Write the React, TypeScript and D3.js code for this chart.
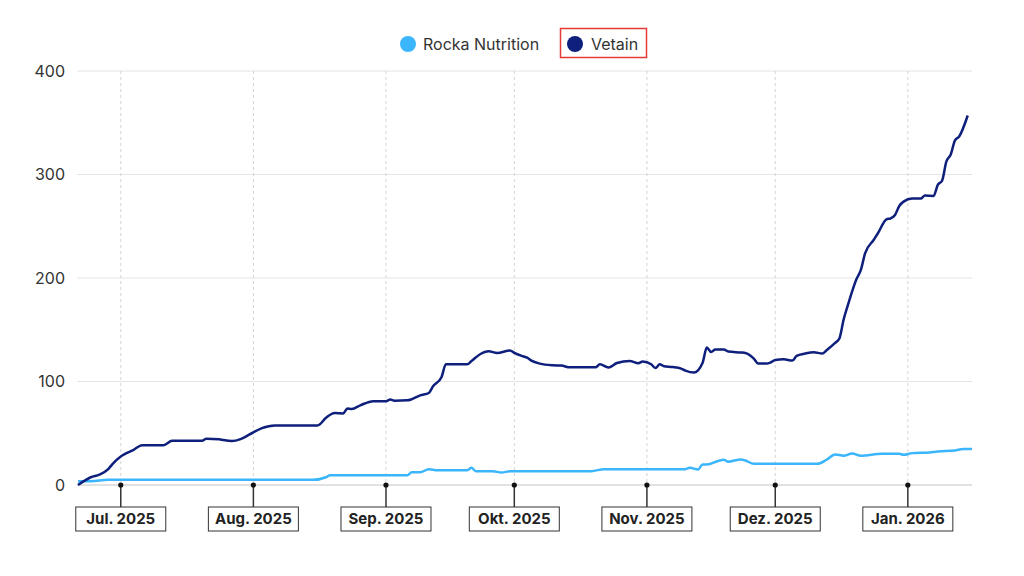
import * as d3 from 'd3';
import React from 'react';

// Daily follower-style series
const vetain: [string, number][] = [
  ['2025-06-21', 0], ['2025-06-24', 7.5], ['2025-06-26', 10], ['2025-06-28', 15],
  ['2025-06-29', 20], ['2025-07-01', 27.6], ['2025-07-02', 30], ['2025-07-04', 34],
  ['2025-07-06', 38.5], ['2025-07-11', 38.5], ['2025-07-13', 42.8], ['2025-07-20', 42.8],
  ['2025-07-21', 44.7], ['2025-07-24', 44.3], ['2025-07-25', 43.4], ['2025-07-27', 42.4],
  ['2025-07-29', 44.3], ['2025-07-31', 48.6], ['2025-08-03', 55], ['2025-08-06', 57.6],
  ['2025-08-16', 57.6], ['2025-08-18', 65], ['2025-08-20', 69.5], ['2025-08-22', 69.2],
  ['2025-08-23', 74], ['2025-08-24', 73.4], ['2025-08-26', 77], ['2025-08-29', 81],
  ['2025-09-01', 81], ['2025-09-02', 82.5], ['2025-09-03', 81.5], ['2025-09-06', 81.8],
  ['2025-09-07', 82.8], ['2025-09-09', 86.6], ['2025-09-11', 88.9], ['2025-09-12', 95.4],
  ['2025-09-14', 104.4], ['2025-09-15', 116.6], ['2025-09-20', 116.6], ['2025-09-21', 119.8],
  ['2025-09-23', 126.3], ['2025-09-25', 129.2], ['2025-09-27', 127.6], ['2025-09-30', 130],
  ['2025-10-01', 127.6], ['2025-10-03', 124.4], ['2025-10-04', 123.1], ['2025-10-05', 120.2],
  ['2025-10-07', 117.3], ['2025-10-10', 115.7], ['2025-10-12', 115.4], ['2025-10-14', 113.7],
  ['2025-10-20', 113.7], ['2025-10-21', 116.6], ['2025-10-23', 113.5], ['2025-10-25', 117.9],
  ['2025-10-28', 119.8], ['2025-10-30', 117.6], ['2025-10-31', 119.3], ['2025-11-02', 116.6],
  ['2025-11-03', 113], ['2025-11-04', 116.6], ['2025-11-05', 114.7], ['2025-11-07', 114],
  ['2025-11-09', 112.5], ['2025-11-10', 110.5], ['2025-11-12', 108.6], ['2025-11-14', 117.9],
  ['2025-11-15', 132.8], ['2025-11-16', 128.6], ['2025-11-17', 130.9], ['2025-11-19', 130.9],
  ['2025-11-20', 128.9], ['2025-11-23', 128], ['2025-11-24', 127.6], ['2025-11-26', 122.2],
  ['2025-11-27', 117.3], ['2025-11-29', 117.3], ['2025-11-30', 118.6], ['2025-12-01', 120.8],
  ['2025-12-03', 121.5], ['2025-12-05', 120.2], ['2025-12-06', 124.7], ['2025-12-08', 127],
  ['2025-12-10', 128.3], ['2025-12-12', 127], ['2025-12-13', 130.2], ['2025-12-15', 137.3],
  ['2025-12-16', 141.5], ['2025-12-17', 160], ['2025-12-18', 174], ['2025-12-20', 199],
  ['2025-12-21', 207.6], ['2025-12-22', 223.8], ['2025-12-24', 236.7], ['2025-12-25', 243.2],
  ['2025-12-27', 256.7], ['2025-12-28', 257.7], ['2025-12-29', 260.9], ['2025-12-30', 269.6],
  ['2025-12-31', 273.8], ['2026-01-02', 276.7], ['2026-01-04', 276.7], ['2026-01-05', 279.6],
  ['2026-01-07', 279.3], ['2026-01-08', 290], ['2026-01-09', 294], ['2026-01-10', 312.5],
  ['2026-01-11', 319], ['2026-01-12', 332.8], ['2026-01-13', 336.7], ['2026-01-15', 357],
];

const rocka: [string, number][] = [
  ['2025-06-21', 3.7], ['2025-06-24', 3.7], ['2025-06-28', 5], ['2025-06-29', 5],
  ['2025-08-15', 5], ['2025-08-18', 7.5], ['2025-08-19', 9.5], ['2025-09-06', 9.5],
  ['2025-09-07', 12.2], ['2025-09-09', 12.2], ['2025-09-11', 15.3], ['2025-09-13', 14.3],
  ['2025-09-20', 14.3], ['2025-09-21', 16.6], ['2025-09-22', 13.4], ['2025-09-26', 13.4],
  ['2025-09-28', 12], ['2025-09-30', 13.4], ['2025-10-19', 13.4], ['2025-10-22', 15.3],
  ['2025-11-10', 15.3], ['2025-11-11', 16.6], ['2025-11-13', 15], ['2025-11-14', 19.8],
  ['2025-11-15', 19.8], ['2025-11-18', 23.7], ['2025-11-19', 24.4], ['2025-11-20', 22.5],
  ['2025-11-23', 24.7], ['2025-11-24', 23.7], ['2025-11-26', 20.5], ['2025-12-11', 20.5],
  ['2025-12-13', 24.4], ['2025-12-15', 29.5], ['2025-12-17', 28.3], ['2025-12-19', 30.5],
  ['2025-12-21', 28.3], ['2025-12-26', 30.2], ['2025-12-30', 30.2], ['2025-12-31', 29.2],
  ['2026-01-02', 30.8], ['2026-01-06', 31.5], ['2026-01-08', 32.4], ['2026-01-12', 33.4],
  ['2026-01-14', 34.7], ['2026-01-16', 34.7],
];

const yTicks = [0, 100, 200, 300, 400];
const monthTicks = ['2025-07-01', '2025-08-01', '2025-09-01', '2025-10-01', '2025-11-01', '2025-12-01', '2026-01-01'];
const monthLabels = ['Jul. 2025', 'Aug. 2025', 'Sep. 2025', 'Okt. 2025', 'Nov. 2025', 'Dez. 2025', 'Jan. 2026'];

const seriesNames = ['Rocka Nutrition', 'Vetain'];
const seriesColors = ['#3bb5fb', '#0e1f7c'];

const W = 1024;
const H = 576;
const margin = { top: 71, right: 52, bottom: 91, left: 77 };
const FONT = 'Inter, "Noto Sans", sans-serif';

const parse = d3.timeParse('%Y-%m-%d');

const App: React.FC = () => {
  const x = d3
    .scaleTime()
    .domain([parse('2025-06-21')!, parse('2026-01-16')!])
    .range([margin.left + 1, W - margin.right]);

  const y = d3
    .scaleLinear()
    .domain([0, 400])
    .range([H - margin.bottom, margin.top]);

  const line = d3
    .line<[string, number]>()
    .x((d) => x(parse(d[0])!))
    .y((d) => y(d[1]))
    .curve(d3.curveMonotoneX);

  const y0 = y(0);

  return (
    <svg width={W} height={H} style={{ position: 'absolute', left: 0, top: 0 }} fontFamily={FONT}>
      <rect width={W} height={H} fill="#fff" />

      {/* horizontal grid + y labels */}
      {yTicks.map((t) => (
        <g key={t}>
          <line
            x1={margin.left}
            x2={W - margin.right}
            y1={y(t)}
            y2={y(t)}
            stroke={t === 0 ? '#c4c4c4' : '#e4e4e4'}
            strokeWidth={1}
          />
          <text x={65} y={y(t)} dy="0.35em" textAnchor="end" fontSize={16} fill="#333">
            {t}
          </text>
        </g>
      ))}

      {/* vertical dashed grid */}
      {monthTicks.map((m) => (
        <line
          key={m}
          x1={x(parse(m)!)}
          x2={x(parse(m)!)}
          y1={margin.top}
          y2={y0}
          stroke="#d4d4d4"
          strokeDasharray="3,3"
          strokeWidth={1}
        />
      ))}

      {/* series */}
      <path d={line(rocka)!} fill="none" stroke={seriesColors[0]} strokeWidth={2.5} />
      <path d={line(vetain)!} fill="none" stroke={seriesColors[1]} strokeWidth={2.5} />

      {/* month markers */}
      {monthTicks.map((m, i) => {
        const cx = x(parse(m)!);
        return (
          <g key={m}>
            <line x1={cx} x2={cx} y1={y0} y2={y0 + 22} stroke="#333" strokeWidth={1.5} />
            <circle cx={cx} cy={y0} r={2.6} fill="#111" />
            <rect x={cx - 45} y={y0 + 22} width={90} height={24} fill="#fff" stroke="#333" strokeWidth={1} />
            <text x={cx} y={y0 + 34} dy="0.36em" textAnchor="middle" fontSize={15} fontWeight={700} fill="#222">
              {monthLabels[i]}
            </text>
          </g>
        );
      })}

      {/* legend */}
      <g>
        <circle cx={408} cy={44} r={8} fill={seriesColors[0]} />
        <text x={423} y={44} dy="0.35em" fontSize={16} fill="#333">
          {seriesNames[0]}
        </text>
        <rect x={560.5} y={28.5} width={86} height={29} fill="none" stroke="#e53935" strokeWidth={1.5} />
        <circle cx={575} cy={44} r={8} fill={seriesColors[1]} />
        <text x={591} y={44} dy="0.35em" fontSize={16} fill="#333">
          {seriesNames[1]}
        </text>
      </g>
    </svg>
  );
};

export default App;
